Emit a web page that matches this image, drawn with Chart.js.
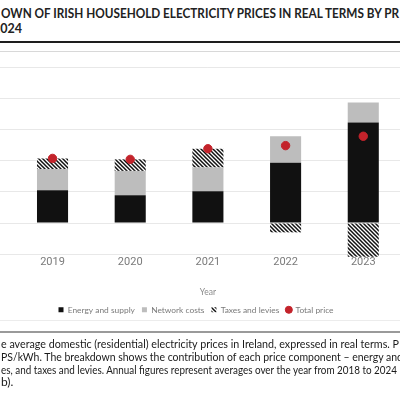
<!DOCTYPE html>
<html>
<head>
<meta charset="utf-8">
<script src="https://cdn.jsdelivr.net/npm/chart.js@4/dist/chart.umd.min.js"></script>
<style>
  html, body { margin: 0; padding: 0; background: #fff; }
  body { width: 400px; height: 400px; overflow: hidden; position: relative; }
  .txt { position: absolute; white-space: nowrap; transform-origin: left center; }
  .title { font-family: Lato, "Open Sans", sans-serif; font-weight: bold; font-size: 12.5px; color: #222; }
  .cap { font-family: Lato, "Open Sans", sans-serif; font-size: 12px; color: #1a1a1a; }
  .rule { position: absolute; left: 0; width: 400px; }
  #wrap { position: absolute; left: -93px; top: 55px; width: 578px; height: 272px; }
</style>
</head>
<body>
<div class="txt title" id="t1" style="left:1px; top:6px;">OWN OF IRISH HOUSEHOLD ELECTRICITY PRICES IN REAL TERMS BY PR</div>
<div class="txt title" id="t2" style="left:-7px; top:21px;">2024</div>
<div class="rule" style="top:41px; height:2px; background:#1e1e1e;"></div>
<div class="rule" style="top:51px; height:1px; background:#d8d8d8;"></div>

<div id="wrap"><canvas id="chart"></canvas></div>

<div class="rule" style="top:320px; height:1px; background:#ececec;"></div>
<div class="rule" style="top:331px; height:2px; background:#9a9a9a;"></div>

<div class="txt cap" id="c1" style="left:1px; top:336px;">e average domestic (residential) electricity prices in Ireland, expressed in real terms. P</div>
<div class="txt cap" id="c2" style="left:1px; top:349px;">PS/kWh. The breakdown shows the contribution of each price component – energy and</div>
<div class="txt cap" id="c3" style="left:1px; top:362px;">es, and taxes and levies. Annual figures represent averages over the year from 2018 to 2024</div>
<div class="txt cap" id="c4" style="left:1px; top:374px;">b).</div>

<script>
// stretch a text line to a target width (justified look)
function fitLine(id, target) {
  const el = document.getElementById(id);
  const w = el.getBoundingClientRect().width;
  const spaces = (el.textContent.match(/ /g) || []).length;
  if (w < target && spaces > 0) {
    el.style.wordSpacing = ((target - w) / spaces) + 'px';
  } else {
    el.style.transform = 'scaleX(' + (target / w) + ')';
  }
}
fitLine('t1', 398);
fitLine('c1', 398);
fitLine('c2', 402);
fitLine('c3', 396);

const years = ['2018', '2019', '2020', '2021', '2022', '2023', '2024'];
const energySupply = [null, 10.5, 8.9, 10.2, 19.3, 32.2, null];
const networkCosts = [null, 6.8, 7.8, 7.6, 8.5, 6.4, null];
const taxesLevies = [null, 3.4, 3.7, 6.0, -3.0, -10.8, null];
const totalPrice = [null, 20.7, 20.4, 23.8, 24.8, 27.8, null];

// diagonal hatch for taxes and levies
function makeHatch() {
  const c = document.createElement('canvas');
  c.width = 4; c.height = 4;
  const g = c.getContext('2d');
  g.fillStyle = '#ffffff';
  g.fillRect(0, 0, 4, 4);
  g.strokeStyle = '#111111';
  g.lineWidth = 1.5;
  g.beginPath();
  g.moveTo(-1, -1); g.lineTo(5, 5);
  g.moveTo(-1, 3); g.lineTo(1, 5);
  g.moveTo(3, -1); g.lineTo(5, 1);
  g.stroke();
  return g.createPattern(c, 'repeat');
}
const hatch = makeHatch();

const ctx = document.getElementById('chart');
new Chart(ctx, {
  data: {
    labels: years,
    datasets: [
      {
        type: 'line',
        label: 'Total price',
        data: totalPrice,
        showLine: false,
        pointStyle: 'circle',
        pointRadius: 4.2,
        pointBackgroundColor: '#c3232b',
        pointBorderColor: '#c3232b',
        backgroundColor: '#c3232b',
        borderColor: '#c3232b',
        stack: 'total',
        order: 0
      },
      {
        type: 'bar',
        label: 'Energy and supply',
        data: energySupply,
        backgroundColor: '#111111',
        pointStyle: 'rect',
        stack: 'parts',
        order: 1
      },
      {
        type: 'bar',
        label: 'Network costs',
        data: networkCosts,
        backgroundColor: '#bdbdbd',
        pointStyle: 'rect',
        stack: 'parts',
        order: 1
      },
      {
        type: 'bar',
        label: 'Taxes and levies',
        data: taxesLevies,
        backgroundColor: hatch,
        pointStyle: 'rect',
        stack: 'parts',
        clip: false,
        order: 1
      }
    ]
  },
  options: {
    responsive: true,
    maintainAspectRatio: false,
    animation: false,
    categoryPercentage: 0.8,
    barPercentage: 0.5,
    layout: { padding: { top: 12, bottom: 3, right: 0 } },
    scales: {
      x: {
        stacked: true,
        grid: { display: false, drawTicks: false },
        border: { display: false },
        ticks: { color: '#7a7a7a', padding: 1, font: { family: 'Roboto', size: 11 } },
        title: {
          display: true,
          text: 'Year',
          color: '#8a8a8a',
          font: { family: 'Lato', size: 8.5 },
          padding: { top: 18, bottom: 1 }
        }
      },
      y: {
        stacked: true,
        min: -10,
        max: 50,
        ticks: { stepSize: 10, display: false },
        grid: { color: '#e8e8e8', drawTicks: false },
        border: { display: false },
        afterFit: (scale) => { scale.width = 29; }
      }
    },
    plugins: {
      tooltip: { enabled: false },
      legend: {
        position: 'bottom',
        labels: {
          usePointStyle: true,
          boxWidth: 5,
          boxHeight: 5,
          padding: 7,
          color: '#7a7a7a',
          font: { family: 'Lato', size: 8.4 },
          sort: (a, b) => {
            const order = ['Energy and supply', 'Network costs', 'Taxes and levies', 'Total price'];
            return order.indexOf(a.text) - order.indexOf(b.text);
          }
        }
      }
    }
  }
});
</script>
</body>
</html>
